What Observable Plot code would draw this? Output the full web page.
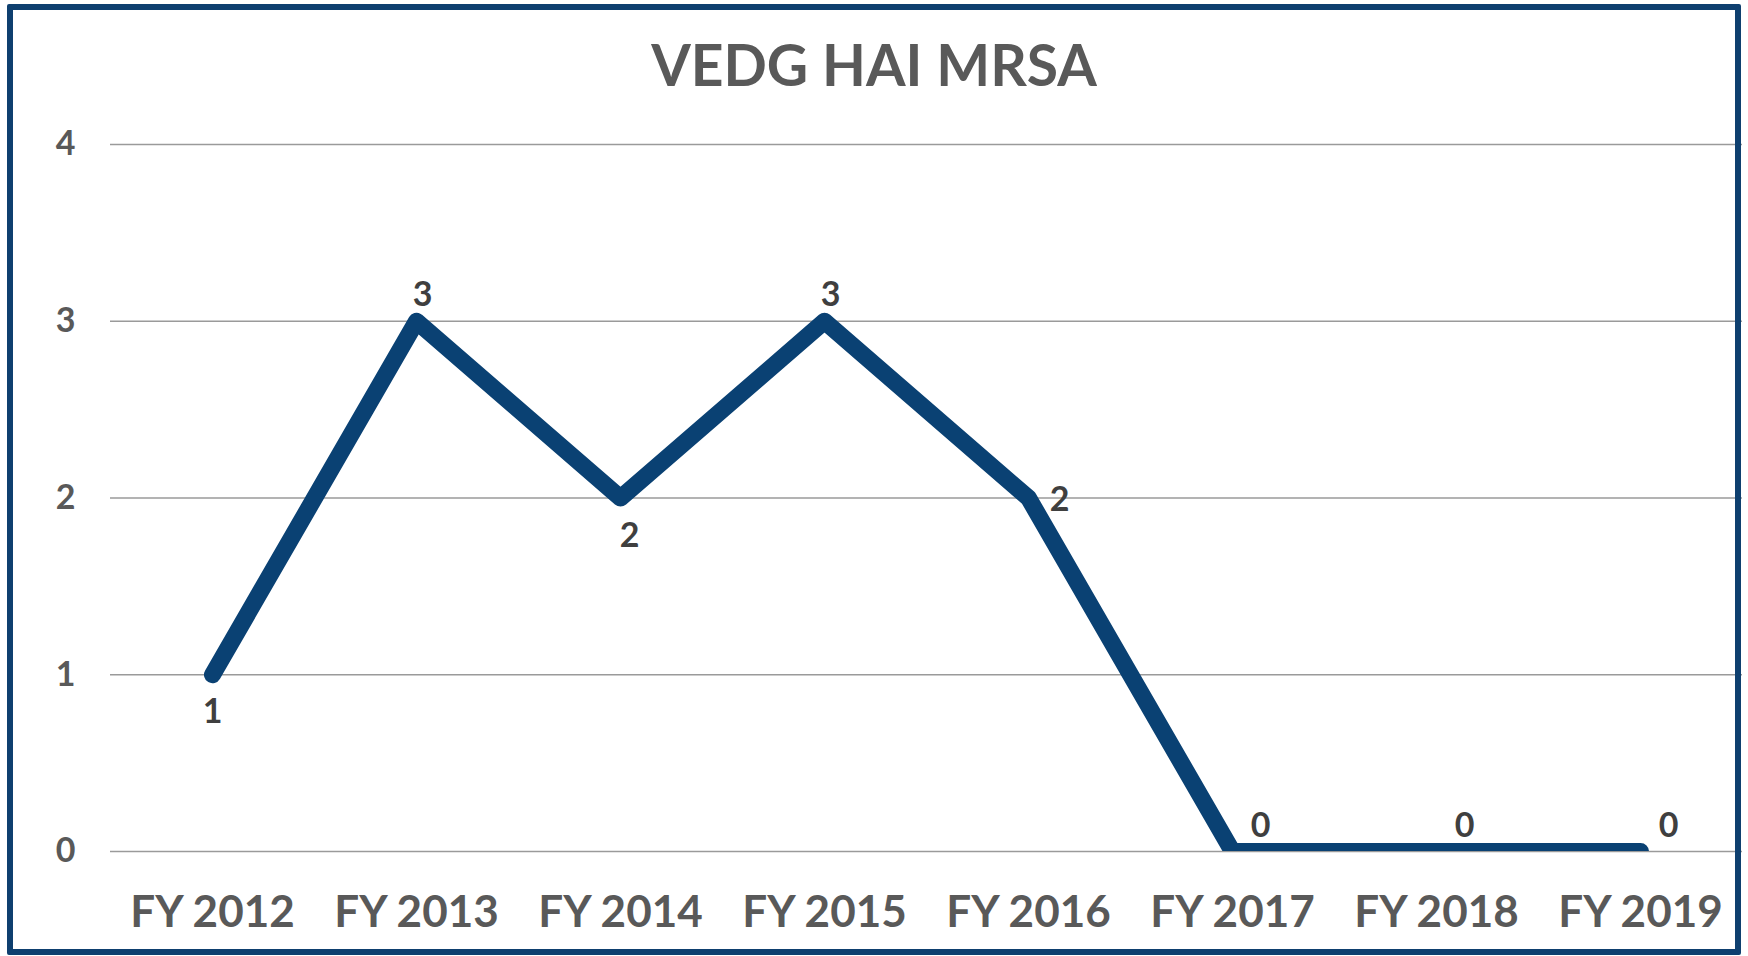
<!DOCTYPE html>
<html>
<head>
<meta charset="utf-8">
<script src="https://cdn.jsdelivr.net/npm/d3@7"></script>
<script src="https://cdn.jsdelivr.net/npm/@observablehq/plot@0.6"></script>
<style>
  html, body { margin: 0; padding: 0; background: #fff; }
  body { width: 1748px; height: 956px; position: relative; overflow: hidden; font-family: Lato, "Open Sans", sans-serif; }
  #title { position: absolute; left: 0; top: 36px; width: 1748px; text-align: center; font-size: 57px; line-height: 1; font-weight: 700; color: #595959; }
  #chart { position: absolute; left: 0; top: 110px; }
  #frame { position: absolute; left: 7px; top: 4px; width: 1734px; height: 951px; box-sizing: border-box; border: 6px solid #0e3f6f; border-radius: 2px; pointer-events: none; z-index: 5; }
</style>
</head>
<body>
<div id="title">VEDG HAI MRSA</div>
<div id="chart"></div>
<div id="frame"></div>
<script>
// Data
const years = ["FY 2012", "FY 2013", "FY 2014", "FY 2015", "FY 2016", "FY 2017", "FY 2018", "FY 2019"];
const cases = [1, 3, 2, 3, 2, 0, 0, 0];
const yTicks = [0, 1, 2, 3, 4];
// Data-label placement per point (as in the original)
const labelPlacement = ["below", "above", "below-right", "above", "right", "above-right", "above-right", "above-right"];

const data = years.map((y, i) => ({year: y, value: cases[i], place: labelPlacement[i]}));

const offsets = {
  "below": {dx: 0, dy: 37},
  "below-right": {dx: 9, dy: 38},
  "above": {dx: 6, dy: -26},
  "right": {dx: 31, dy: 2},
  "above-right": {dx: 28, dy: -25}
};

const labelMarks = Object.entries(offsets).map(([p, o]) =>
  Plot.text(data.filter(d => d.place === p), {
    x: "year", y: "value", text: d => String(d.value),
    dx: o.dx, dy: o.dy, fontSize: 34, fontWeight: 700, fill: "#3f3f3f", textAnchor: "middle"
  })
);

const chart = Plot.plot({
  width: 1748,
  height: 846,
  marginTop: 34,
  marginBottom: 105,
  marginLeft: 110,
  marginRight: 6,
  style: {fontFamily: "Lato, 'Open Sans', sans-serif", color: "#595959", background: "transparent", overflow: "visible"},
  x: {type: "point", domain: years, padding: 0.5},
  y: {domain: [0, 4], ticks: yTicks},
  marks: [
    Plot.gridY(yTicks, {stroke: "#9a9a9a", strokeOpacity: 1, strokeWidth: 1.4}),
    Plot.axisY(yTicks, {tickSize: 0, tickPadding: 35, fontSize: 34, fontWeight: 700, fill: "#595959", label: null, tickFormat: d3.format("d")}),
    Plot.axisX({tickSize: 0, tickPadding: 44, fontSize: 44, fontWeight: 700, fill: "#595959", label: null}),
    Plot.line(data, {x: "year", y: "value", stroke: "#0a4173", strokeWidth: 17, strokeLinecap: "round", strokeLinejoin: "round", clip: true}),
    ...labelMarks
  ]
});
document.getElementById("chart").appendChild(chart);
</script>
</body>
</html>
